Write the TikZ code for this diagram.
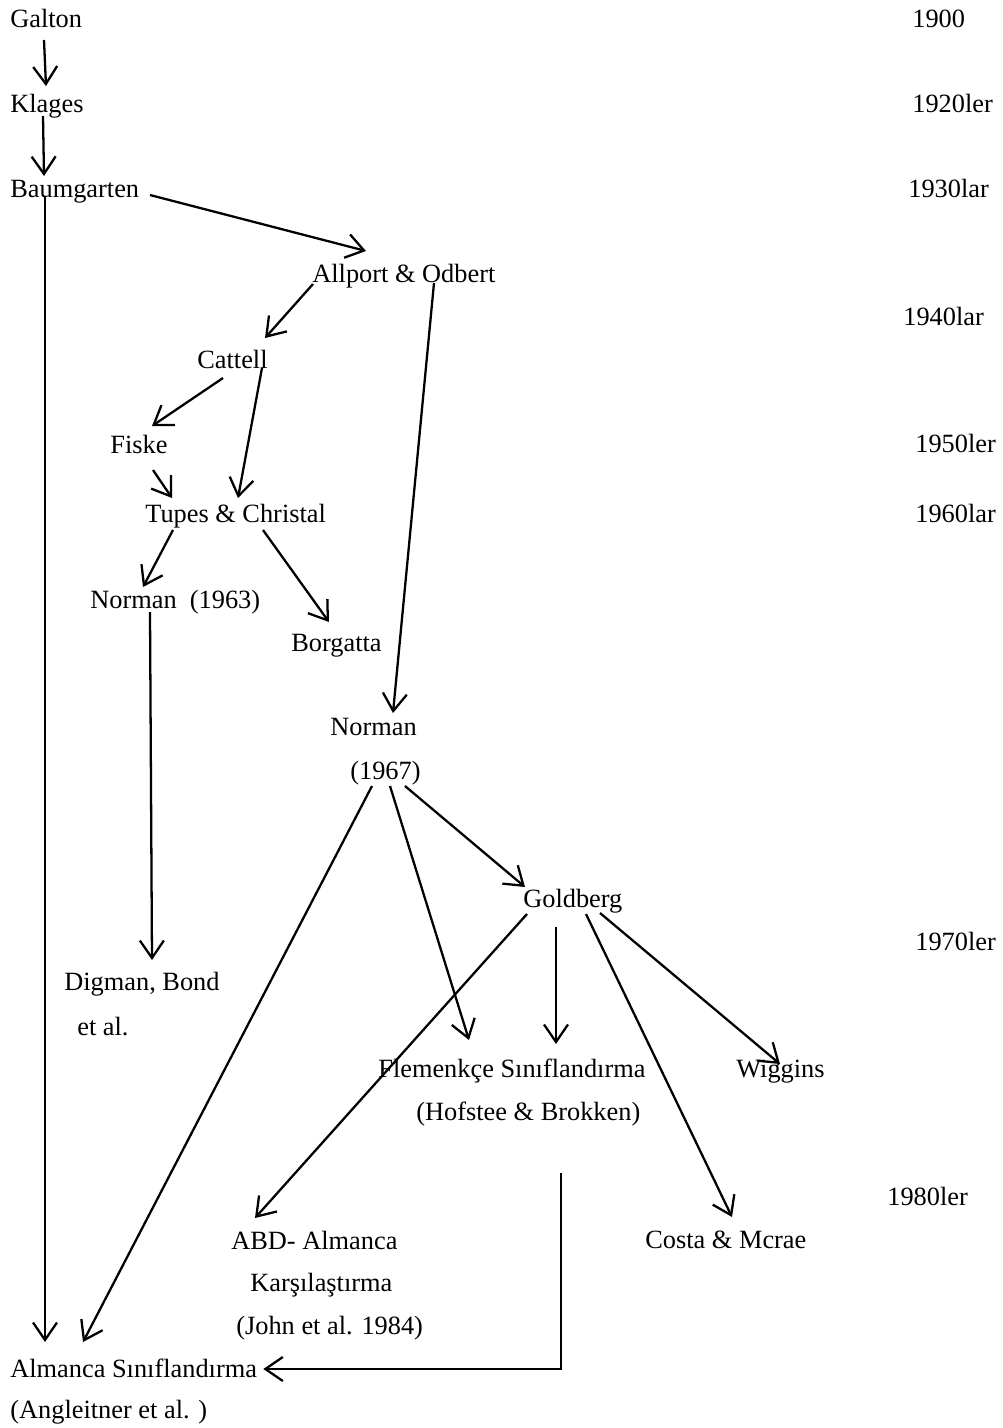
\documentclass[tikz,border=0pt]{standalone}
\usepackage{fontspec}
\setmainfont{Liberation Serif}
\usetikzlibrary{arrows.meta,calc}

\begin{document}
\begin{tikzpicture}[x=0.02cm,y=-0.02cm,>={Straight Barb[length=3.5mm,width=4.8mm]},
  lbl/.style={inner sep=0pt,anchor=base west,font=\fontsize{15}{18}\selectfont},
  link/.style={->,line width=1.3pt}]
  \fill[white] (0,0) rectangle (1002,1428);

  % names
  \node[lbl] (galton)   at (10,27)   {Galton};
  \node[lbl] (klages)   at (10,112)  {Klages};
  \node[lbl] (baum)     at (10,197)  {Baumgarten};
  \node[lbl] (allport)  at (312,282) {Allport \& Odbert};
  \node[lbl] (cattell)  at (197,368) {Cattell};
  \node[lbl] (fiske)    at (110,453) {Fiske};
  \node[lbl] (tupes)    at (145,522) {Tupes \& Christal};
  \node[lbl] (normA)    at (90,608)  {Norman\ \ (1963)};
  \node[lbl] (borgatta) at (291,651) {Borgatta};
  \node[lbl] (normB)    at (330,735) {Norman};
  \node[lbl] (normBy)   at (350,779) {(1967)};
  \node[lbl] (goldberg) at (523,907) {Goldberg};
  \node[lbl] (digman)   at (64,990)  {Digman, Bond};
  \node[lbl] (digmanb)  at (77,1035) {et al.};
  \node[lbl] (flem)     at (378,1077) {Flemenkçe Sınıflandırma};
  \node[lbl] (flemb)    at (416,1120) {(Hofstee \& Brokken)};
  \node[lbl] (wiggins)  at (736,1077) {Wiggins};
  \node[lbl] (abd)      at (231,1249) {ABD- Almanca};
  \node[lbl] (abdb)     at (250,1291) {Karşılaştırma};
  \node[lbl] (abdc)     at (236,1334) {(John et al. 1984)};
  \node[lbl] (costa)    at (645,1248) {Costa \& Mcrae};
  \node[lbl] (alman)    at (10,1377) {Almanca Sınıflandırma};
  \node[lbl] (almanb)   at (10,1418) {(Angleitner et al. )};

  % years
  \node[lbl] (y1900) at (912,27)  {1900};
  \node[lbl] (y1920) at (912,112) {1920ler};
  \node[lbl] (y1930) at (908,197) {1930lar};
  \node[lbl] (y1940) at (903,325) {1940lar};
  \node[lbl] (y1950) at (915,452) {1950ler};
  \node[lbl] (y1960) at (915,522) {1960lar};
  \node[lbl] (y1970) at (915,950) {1970ler};
  \node[lbl] (y1980) at (887,1205) {1980ler};

  % arrows
  \draw[link] ($(galton.base west)+(34,13)$) -- ($(klages.base west)+(36,-26)$);
  \draw[link] ($(klages.base west)+(33,4)$) -- ($(baum.base west)+(34,-21)$);
  \draw[link] ($(baum.base west)+(35,0)$) -- ($(alman.base west)+(35,-35)$);
  \draw[link] ($(baum.base west)+(140,-2)$) -- ($(allport.base west)+(54,-31)$);
  \draw[link] ($(allport.base west)+(1,2)$) -- ($(cattell.base west)+(68,-30)$);
  \draw[link] ($(allport.base west)+(122,1)$) -- ($(normB.base west)+(63,-22)$);
  \draw[link] ($(cattell.base west)+(26,10)$) -- ($(fiske.base west)+(42,-27)$);
  \draw[link] ($(cattell.base west)+(65,0)$) -- ($(tupes.base west)+(93,-24)$);
  \draw[link] ($(fiske.base west)+(43,17)$) -- ($(tupes.base west)+(27,-24)$);
  \draw[link] ($(tupes.base west)+(28,8)$) -- ($(normA.base west)+(53,-21)$);
  \draw[link] ($(tupes.base west)+(118,8)$) -- ($(borgatta.base west)+(38,-29)$);
  \draw[link] ($(normA.base west)+(60,4)$) -- ($(digman.base west)+(88,-30)$);
  \draw[link] ($(normBy.base west)+(22,7)$) -- ($(alman.base west)+(73,-35)$);
  \draw[link] ($(normBy.base west)+(40,7)$) -- ($(flem.base west)+(91,-37)$);
  \draw[link] ($(normBy.base west)+(55,7)$) -- ($(goldberg.base west)+(2,-20)$);
  \draw[link] ($(goldberg.base west)+(4,7)$) -- ($(abd.base west)+(24,-31)$);
  \draw[link] ($(goldberg.base west)+(33,20)$) -- ($(flem.base west)+(178,-33)$);
  \draw[link] ($(goldberg.base west)+(63,7)$) -- ($(costa.base west)+(87,-31)$);
  \draw[link] ($(goldberg.base west)+(77,6)$) -- ($(wiggins.base west)+(44,-13)$);
  \draw[link] ($(flemb.base west)+(145,53)$) |- ($(alman.base east)+(6,-8)$);
\end{tikzpicture}
\end{document}
